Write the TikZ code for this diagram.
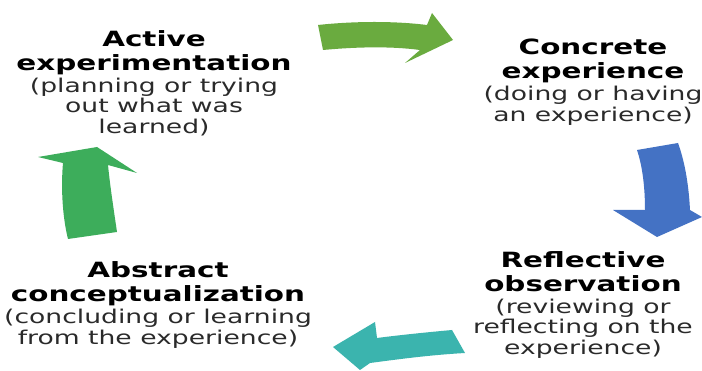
\documentclass[tikz,border=0pt]{standalone}
\usepackage{graphicx}
\usepackage{fontspec}
\setmainfont{DejaVu Sans}
\begin{document}
\begin{tikzpicture}[x=1pt,y=-1pt]
  \definecolor{arrowgreen}{HTML}{6AAB3F}
  \definecolor{arrowblue}{HTML}{4472C4}
  \definecolor{arrowteal}{HTML}{3BB4AE}
  \definecolor{arrowleaf}{HTML}{3DAD5B}
  \definecolor{subtext}{HTML}{2A2A2A}
  \tikzset{
    stage/.style={align=center, inner sep=0pt},
    blockarrow/.style={draw=none}
  }
  % one stage label: bold title lines, then the explanation in parentheses
  \newcommand{\stagetext}[2]{%
    \scalebox{1.4}[1]{\parbox{240pt}{\centering
      {\bfseries\fontsize{21}{24}\selectfont #1\par}
      \vspace{1.5pt}
      {\fontsize{19}{20.5}\selectfont\color{subtext}#2\par}}}}

  \useasboundingbox[fill=white] (0,0) rectangle (702,371);

  % stage labels
  \node[stage] (active) at (154,83)
    {\stagetext{Active\\experimentation}{(planning or trying\\out what was\\learned)}};
  \node[stage] (concrete) at (593,82)
    {\stagetext{Concrete\\experience}{(doing or having\\an experience)}};
  \node[stage] (reflective) at (583,305)
    {\stagetext{Reflective\\observation}{(reviewing or\\reflecting on the\\experience)}};
  \node[stage] (abstract) at (158,305)
    {\stagetext{Abstract\\conceptualization}{(concluding or learning\\from the experience)}};

  % cycle arrows, clockwise
  \fill[arrowgreen, blockarrow] (318,25) .. controls (355,21) and (395,21) .. (427,25)
    -- (432,13) -- (453,40) -- (405,63) -- (420,50)
    .. controls (390,46) and (355,47) .. (323,50) -- cycle;
  \fill[arrowblue, blockarrow] (637,150) -- (678,143)
    .. controls (686,165) and (689,190) .. (690,210)
    -- (702,217) -- (657,237) -- (613,210) -- (645,210)
    .. controls (645,185) and (642,165) .. (637,150) -- cycle;
  \fill[arrowteal, blockarrow] (452,330) -- (465,353)
    .. controls (430,355) and (400,359) .. (370,363)
    -- (360,370) -- (333,347) -- (375,322) -- (377,338)
    .. controls (400,335) and (430,332) .. (452,330) -- cycle;
  \fill[arrowleaf, blockarrow] (68,239) -- (117,232)
    .. controls (113,205) and (110,185) .. (108,165)
    -- (137,173) -- (97,147) -- (38,157) -- (63,163)
    .. controls (61,185) and (62,215) .. (68,239) -- cycle;
\end{tikzpicture}
\end{document}
